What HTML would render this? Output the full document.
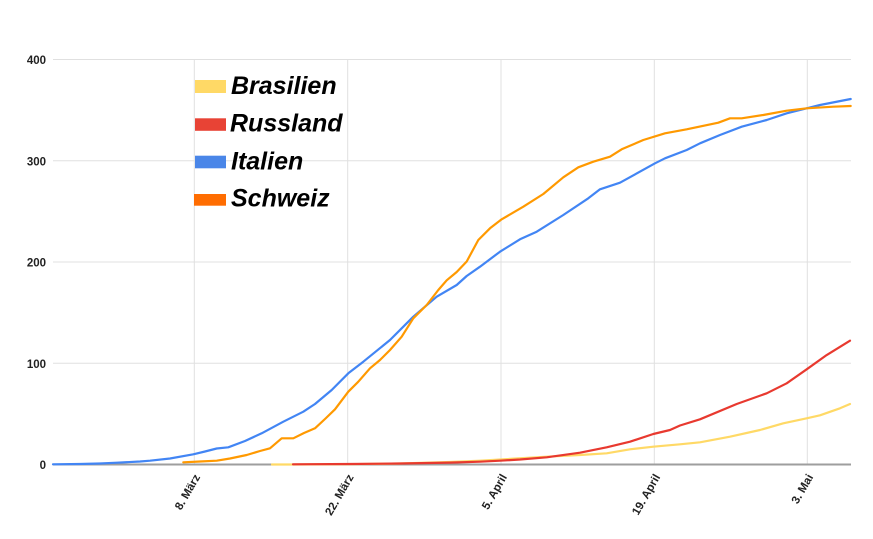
<!DOCTYPE html>
<html><head><meta charset="utf-8"><style>
html,body{margin:0;padding:0;background:#fff;}
svg{display:block;}
.ax{font-family:"Liberation Sans",Arial,sans-serif;font-weight:bold;font-size:11.5px;fill:#222;}
.lg{font-family:"Liberation Sans",Arial,sans-serif;font-weight:bold;font-style:italic;font-size:25px;fill:#000;}
</style></head><body>
<svg width="873" height="539" viewBox="0 0 873 539" xmlns="http://www.w3.org/2000/svg">
<rect width="873" height="539" fill="#fff"/>
<g stroke="#e0e0e0" stroke-width="1">
<line x1="53" y1="59.5" x2="851" y2="59.5"/>
<line x1="53" y1="160.75" x2="851" y2="160.75"/>
<line x1="53" y1="262" x2="851" y2="262"/>
<line x1="53" y1="363.25" x2="851" y2="363.25"/>
<line x1="194.3" y1="59" x2="194.3" y2="464"/>
<line x1="347.7" y1="59" x2="347.7" y2="464"/>
<line x1="501" y1="59" x2="501" y2="464"/>
<line x1="654.3" y1="59" x2="654.3" y2="464"/>
<line x1="807.3" y1="59" x2="807.3" y2="464"/>
</g>
<line x1="53" y1="464.5" x2="851" y2="464.5" stroke="#9e9e9e" stroke-width="2"/>
<g class="ax" text-anchor="end">
<text x="46" y="64">400</text>
<text x="46" y="165.3">300</text>
<text x="46" y="266.5">200</text>
<text x="46" y="367.8">100</text>
<text x="46" y="469">0</text>
</g>
<g class="ax" text-anchor="end">
<text transform="translate(200.5,477) rotate(-60)">8. März</text>
<text transform="translate(354,477) rotate(-60)">22. März</text>
<text transform="translate(507.3,477) rotate(-60)">5. April</text>
<text transform="translate(660.6,477) rotate(-60)">19. April</text>
<text transform="translate(813.6,477) rotate(-60)">3. Mai</text>
</g>
<g fill="none" stroke-width="2.2" stroke-linejoin="round" stroke-linecap="round">
<polyline stroke="#ffd966" points="272,464.5 293,464.5 350,464.2 400,463.5 450,462 480,460.7 546.7,456.7 580,455 606.7,453.3 630,449.3 653.3,446.7 680,444.3 700,442.3 730,436.7 760,430 783.3,423.3 806.7,418.3 820,415.3 840,408.3 850,404"/>
<polyline stroke="#e8392f" points="293,464.3 350,464 400,463.5 450,462.6 480,461.7 500,460.7 520,459.5 546.7,457.3 580,452.7 606.7,447.3 630,441.7 653.3,434 670,430 680,425.5 700,419.3 736.7,404 766.7,393.3 786.7,383.3 806.7,369.3 826.7,355 850,340.7"/>
<polyline stroke="#4285f4" points="53,464.3 80,464 100,463.5 117,462.7 140,461.5 150,460.7 170,458.5 193.3,454.3 205,451.5 216.7,448.5 228.3,447.3 245,441 261.7,433.3 283.3,421.7 303.3,411.7 315,404 331.7,390 348.3,373.3 363.3,361.7 390,340 413.3,316.7 436.7,296.7 456.7,285 466.7,276 480,266.7 500,251.7 520,239.3 536.7,231.7 563.3,215 588.3,198.3 600,189.3 620,182.7 655,163.3 665,158.3 686.7,150 700,143.3 720,135 741.7,126.7 766.7,120 786.7,113.3 806.7,108.3 820,105 850.7,99"/>
<polyline stroke="#ff9900" points="183.3,462.3 200,461.5 216.7,460.7 230,458.5 246.7,455 260,451 270,448.3 281.7,438.3 293.3,438.3 304,433 315,428.3 325,419 335,409.3 348.3,391.7 358.3,381.7 370,368.3 380,360 390,350 401.7,336.7 413.3,318.3 426.7,305 438.3,290 446.7,280.3 456.7,272 466.7,261.5 478.3,240 490,228.3 501.7,219.3 523.3,206.7 543.3,194 563.3,177.3 578.3,167.3 593.3,161.7 610,156.7 621.7,149.3 643.3,140 665,133.3 686.7,129.3 718.3,122.7 730,118.3 741.7,118.3 763.3,115 786.7,110.7 806.7,108.3 833.3,106.7 850.7,106"/>
</g>
<rect x="195" y="80" width="31" height="13" fill="#ffd966"/>
<rect x="195" y="118.3" width="31" height="12.5" fill="#e84335"/>
<rect x="195" y="155.7" width="31" height="12.6" fill="#4a86e8"/>
<rect x="194" y="194" width="32" height="11.7" fill="#ff6d01"/>
<text class="lg" x="231" y="94">Brasilien</text>
<text class="lg" x="230" y="131.7">Russland</text>
<text class="lg" x="231" y="169.3">Italien</text>
<text class="lg" x="231" y="206.7">Schweiz</text>
</svg>
</body></html>
